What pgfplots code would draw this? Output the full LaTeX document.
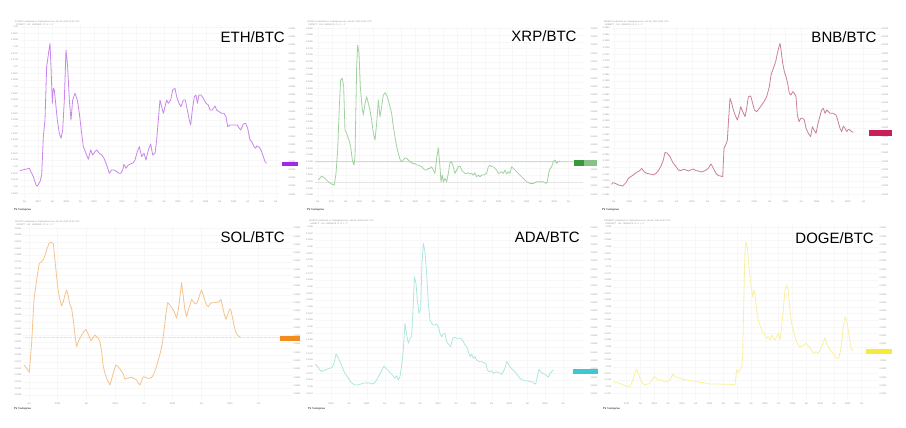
\documentclass[border=0pt]{standalone}
\usepackage{fontspec}
\setmainfont{Liberation Sans}
\usepackage{pgfplots}
\pgfplotsset{compat=1.18}
\definecolor{ethc}{RGB}{200,135,235}
\definecolor{xrpc}{RGB}{160,210,160}
\definecolor{bnbc}{RGB}{200,128,155}
\definecolor{solc}{RGB}{244,196,140}
\definecolor{adac}{RGB}{175,230,224}
\definecolor{dogec}{RGB}{250,240,160}
\definecolor{ethtag}{RGB}{160,40,230}
\definecolor{xrptag}{RGB}{60,150,60}
\definecolor{bnbtag}{RGB}{200,30,90}
\definecolor{soltag}{RGB}{242,140,30}
\definecolor{adatag}{RGB}{60,200,210}
\definecolor{dogetag}{RGB}{250,232,60}
\definecolor{lbl}{RGB}{150,150,150}
\pgfplotsset{
  tvpanel/.style={scale only axis, anchor=north west, y dir=reverse,
    axis line style={draw=none}, tick style={draw=none},
    grid=major, major grid style={black!3, line width=0.3pt},
    /pgf/number format/assume math mode=true,
    xticklabel style={font=\fontsize{2.4}{3}\selectfont, text=lbl, yshift=1pt},
    yticklabel style={font=\fontsize{2.2}{3}\selectfont, text=lbl, xshift=1.5pt},
    yticklabel={\pgfmathparse{(620-\tick)/6000}\pgfmathprintnumber[fixed,precision=4,assume math mode=true]{\pgfmathresult}},
    every axis plot/.append style={line width=0.8pt, line join=round, no markers}},
}
\newcommand{\ttl}[3]{\node[anchor=base east, font=\fontsize{15}{15}\selectfont, inner sep=0pt] at (#1pt,-#2pt) {#3};}
\newcommand{\hdr}[3]{\node[anchor=west, font=\fontsize{2.2}{2.8}\selectfont, text=lbl, inner sep=0pt, align=left] at (#1pt,-#2pt) {#3 published on TradingView.com, Jan 06, 2025 15:51 UTC\\ \ \ #3 · 1W · BINANCE \ O \ H \ L \ C};}
\newcommand{\tv}[2]{\node[anchor=west, font=\fontsize{2.4}{3}\selectfont\bfseries, inner sep=0pt] at (#1pt,-#2pt) {TV\ \mdseries TradingView};}
\newcommand{\rlabels}[3]{\foreach \k in {0,...,#3} {\node[font=\fontsize{2.2}{3}\selectfont, text=lbl, inner sep=0pt] at (#1pt,-#2pt-\k*8.3pt) {0.0000};}}
\newcommand{\tag}[5]{\fill[#5] (#1pt,-#2pt) rectangle (#3pt,-#4pt);}
\begin{document}
\begin{tikzpicture}
\fill[white] (0,0) rectangle (906pt,-428pt);
\useasboundingbox (0,0) rectangle (906pt,-428pt);

% ---------------- ETH/BTC ----------------
\begin{axis}[tvpanel, at={(20pt,-25pt)}, width=260pt, height=173.3pt,
  xmin=60, xmax=840, ymin=75, ymax=595,
  xtick={73,115,157,199,241,282,324,366,408,450,492,534,575,617,659,701,743,785,827},
  xticklabels={Jul,2017,Jul,2018,Jul,2019,Jul,2020,Jul,2021,Jul,2022,Jul,2023,Jul,2024,Jul,2025,Jul},
  ytick={80,100,...,580}]
\addplot[ethc] coordinates {(45,518)(60,512)(88,505)(100,530)(108,555)(112,558)(120,545)(125,525)(130,410)(135,360)(140,200)(147,150)(150,130)(153,200)(157,310)(160,265)(163,270)(167,310)(172,360)(178,400)(183,415)(188,390)(193,300)(198,150)(203,200)(208,300)(213,360)(218,300)(225,280)(232,300)(238,340)(245,400)(250,440)(258,460)(265,478)(272,450)(278,465)(285,455)(290,450)(298,460)(305,465)(312,475)(320,495)(328,520)(335,510)(343,510)(350,515)(357,520)(362,520)(368,510)(372,493)(378,505)(385,495)(392,492)(400,488)(405,480)(412,455)(418,440)(425,470)(432,460)(438,480)(445,450)(452,432)(458,465)(465,460)(470,420)(475,360)(480,300)(485,320)(490,340)(495,320)(500,300)(505,310)(512,300)(518,270)(525,265)(530,290)(537,310)(543,320)(550,300)(556,300)(562,330)(568,360)(572,375)(577,330)(583,290)(588,285)(592,310)(597,285)(603,285)(610,295)(618,310)(625,315)(630,330)(637,330)(645,318)(650,330)(657,335)(665,340)(672,340)(678,350)(683,380)(690,375)(698,375)(705,375)(712,375)(718,385)(722,390)(730,372)(737,370)(743,385)(750,420)(755,425)(762,440)(767,445)(770,438)(778,442)(783,450)(790,470)(795,485)(800,490)};
\end{axis}
\ttl{285}{42.5}{ETH/BTC}
\hdr{15}{23.5}{ETHBTC}
\tv{14}{209.5}
\rlabels{292}{28.5}{20}
\tag{282}{161.5}{298}{166}{ethtag}

% ---------------- XRP/BTC ----------------
\begin{axis}[tvpanel, at={(315pt,-26.7pt)}, width=268.3pt, height=171.7pt,
  xmin=45, xmax=850, ymin=80, ymax=595,
  xtick={53,95,137,178,220,262,304,346,387,429,471,513,554,596,638,680,721,763,805},
  xticklabels={Jul,2017,Jul,2018,Jul,2019,Jul,2020,Jul,2021,Jul,2022,Jul,2023,Jul,2024,Jul,2025,Jul},
  ytick={85,105,...,585}]
\addplot[xrpc!60, line width=0.35pt] coordinates {(45,483)(850,483)};
\addplot[black!10, line width=0.35pt] coordinates {(45,547)(850,547)};
\addplot[xrpc] coordinates {(55,540)(65,528)(75,535)(85,545)(95,552)(103,555)(108,520)(113,450)(118,320)(122,240)(127,235)(131,260)(135,390)(140,400)(147,420)(152,440)(157,480)(162,495)(165,470)(170,200)(173,135)(177,160)(181,260)(186,320)(190,345)(195,310)(200,290)(205,310)(210,330)(215,360)(220,400)(225,420)(230,370)(235,300)(240,350)(245,320)(250,285)(255,278)(260,285)(265,300)(270,320)(275,340)(280,380)(285,410)(290,440)(295,460)(300,478)(305,485)(310,480)(315,473)(320,475)(325,480)(330,485)(335,488)(340,492)(345,490)(350,495)(355,495)(360,498)(365,500)(370,505)(375,510)(380,510)(385,505)(390,505)(395,500)(400,510)(405,520)(410,475)(415,443)(420,500)(423,545)(427,525)(430,545)(435,535)(440,545)(445,520)(450,488)(455,486)(460,500)(465,520)(470,510)(475,500)(480,498)(485,510)(490,515)(495,520)(500,520)(505,518)(510,522)(515,520)(520,525)(525,518)(530,530)(535,525)(540,530)(545,525)(550,525)(555,522)(560,520)(565,500)(570,496)(575,500)(580,500)(585,505)(590,510)(595,520)(600,518)(605,515)(610,520)(615,510)(620,522)(625,515)(630,520)(635,500)(640,505)(645,510)(650,515)(655,520)(660,525)(665,530)(670,535)(675,540)(680,545)(690,550)(700,550)(710,545)(720,545)(730,545)(738,550)(742,545)(748,510)(755,500)(760,485)(765,480)(770,490)(775,485)(780,483)};
\end{axis}
\ttl{576.7}{41.5}{XRP/BTC}
\hdr{307}{23.5}{XRPBTC}
\tv{307}{209.5}
\rlabels{594}{28.5}{20}
\tag{574}{160}{587}{166}{xrptag}
\tag{584}{160}{597}{166}{xrptag!60}

% ---------------- BNB/BTC ----------------
\begin{axis}[tvpanel, at={(611.7pt,-26pt)}, width=268.3pt, height=172.3pt,
  xmin=35, xmax=840, ymin=78, ymax=595,
  xtick={41,88,135,182,229,275,322,369,416,463,509,556,603,650,697,743,790},
  xticklabels={Jul,2018,Jul,2019,Jul,2020,Jul,2021,Jul,2022,Jul,2023,Jul,2024,Jul,2025,Jul},
  ytick={83,103,...,583}]
\addplot[bnbc] coordinates {(30,560)(38,548)(45,550)(55,555)(68,558)(78,548)(85,535)(92,530)(100,525)(108,518)(118,513)(125,505)(132,515)(140,520)(150,522)(160,525)(168,520)(175,512)(183,498)(190,480)(195,457)(202,460)(210,470)(218,487)(228,500)(235,510)(242,512)(250,508)(258,510)(265,513)(272,510)(280,507)(288,512)(295,513)(305,516)(315,512)(325,505)(333,492)(340,505)(348,520)(355,527)(362,528)(368,530)(372,445)(377,435)(382,420)(385,370)(390,295)(395,310)(400,330)(405,345)(412,360)(418,340)(422,320)(428,335)(435,350)(440,325)(445,290)(452,288)(458,310)(463,330)(470,335)(478,325)(485,315)(492,305)(500,290)(508,260)(513,225)(520,205)(527,185)(532,160)(537,140)(540,130)(543,150)(548,190)(553,215)(558,230)(563,250)(568,280)(573,285)(578,275)(583,280)(588,290)(592,345)(597,365)(602,355)(608,355)(613,360)(618,385)(625,400)(632,410)(637,380)(642,390)(648,400)(653,375)(658,355)(665,330)(670,325)(675,340)(680,330)(685,335)(690,340)(700,340)(708,345)(713,360)(720,385)(725,395)(730,378)(735,385)(740,395)(745,388)(750,390)(755,395)(760,397)};
\end{axis}
\ttl{876.7}{42.5}{BNB/BTC}
\hdr{604}{23.5}{BNBBTC}
\tv{602}{209.5}
\rlabels{885}{28.5}{20}
\tag{869}{130}{892}{136}{bnbtag}

% ---------------- SOL/BTC ----------------
\begin{axis}[tvpanel, at={(23.3pt,-226pt)}, width=268.3pt, height=174pt,
  xmin=70, xmax=875, ymin=48, ymax=570,
  xtick={87,173,259,346,432,518,604,690,776},
  xticklabels={Jul,2022,Jul,2023,Jul,2024,Jul,2025,Jul},
  ytick={55,75,...,555}]
\addplot[solc!50, line width=0.3pt, densely dotted] coordinates {(70,380)(875,380)};
\addplot[solc] coordinates {(72,465)(80,475)(88,487)(95,400)(102,270)(110,210)(118,160)(125,155)(132,145)(140,120)(147,100)(153,97)(160,100)(165,150)(170,200)(175,245)(180,270)(185,288)(190,275)(195,255)(200,240)(205,258)(210,285)(215,295)(220,330)(225,375)(230,410)(235,395)(240,385)(245,375)(252,365)(258,358)(263,368)(268,380)(273,393)(278,385)(285,375)(290,380)(295,385)(300,395)(305,425)(310,470)(315,490)(322,510)(330,525)(337,500)(343,478)(348,465)(355,470)(362,480)(370,492)(375,508)(380,505)(388,503)(395,502)(402,505)(410,510)(415,520)(420,525)(425,512)(430,500)(437,502)(443,505)(450,505)(457,500)(462,490)(468,475)(475,450)(482,425)(488,395)(493,355)(498,310)(503,278)(508,283)(513,290)(518,298)(523,305)(530,325)(535,300)(540,260)(545,218)(550,260)(555,300)(560,320)(565,300)(570,285)(575,268)(580,275)(585,282)(590,280)(595,270)(600,252)(605,240)(610,255)(615,272)(620,285)(625,290)(630,282)(635,278)(643,278)(650,277)(657,275)(663,268)(668,290)(673,313)(678,328)(683,315)(688,300)(692,297)(697,320)(702,345)(707,365)(712,375)(718,380)(722,382)};
\end{axis}
\ttl{285}{242}{SOL/BTC}
\hdr{15}{223}{SOLBTC}
\tv{14}{409}
\rlabels{297}{228}{20}
\tag{280}{336}{300}{341}{soltag}

% ---------------- ADA/BTC ----------------
\begin{axis}[tvpanel, at={(315pt,-225pt)}, width=268.3pt, height=175pt,
  xmin=45, xmax=850, ymin=45, ymax=570,
  xtick={93,147,200,254,307,360,414,468,521,575,628,682,735,789},
  xticklabels={2019,Jul,2020,Jul,2021,Jul,2022,Jul,2023,Jul,2024,Jul,2025,Jul},
  ytick={50,70,...,550}]
\addplot[adac] coordinates {(45,462)(52,468)(58,478)(65,485)(72,482)(80,478)(88,475)(95,473)(102,460)(108,432)(113,440)(120,455)(128,475)(135,490)(142,500)(150,512)(157,520)(165,525)(172,525)(180,523)(188,520)(195,518)(202,520)(208,518)(215,522)(222,520)(230,510)(238,495)(245,482)(252,468)(258,475)(265,482)(272,490)(280,498)(285,505)(290,497)(295,510)(300,500)(305,465)(310,420)(315,340)(320,375)(325,400)(330,385)(335,380)(340,280)(343,200)(348,220)(352,270)(357,310)(362,295)(366,160)(370,100)(375,125)(380,190)(385,280)(390,330)(395,340)(400,345)(405,345)(410,342)(415,350)(420,370)(425,380)(430,372)(435,370)(440,395)(445,402)(452,410)(458,385)(463,382)(470,385)(478,385)(485,387)(490,395)(495,405)(500,410)(505,425)(510,440)(515,432)(520,445)(525,440)(530,450)(538,455)(545,455)(552,458)(558,462)(562,480)(568,485)(575,482)(580,490)(585,488)(590,485)(595,488)(600,490)(605,493)(610,485)(615,475)(620,455)(625,462)(630,470)(637,478)(645,485)(652,495)(660,505)(668,510)(675,512)(683,512)(690,515)(697,515)(702,520)(707,522)(712,500)(717,478)(722,485)(728,490)(733,492)(740,497)(745,502)(750,490)(755,485)(760,480)};
\end{axis}
\ttl{580}{242}{ADA/BTC}
\hdr{309}{222}{ADABTC}
\tv{308}{409}
\rlabels{594}{228}{20}
\tag{573}{369}{598}{374}{adatag}

% ---------------- DOGE/BTC ----------------
\begin{axis}[tvpanel, at={(613.3pt,-225pt)}, width=265pt, height=175pt,
  xmin=40, xmax=835, ymin=45, ymax=570,
  xtick={80,121,163,204,246,287,329,370,412,453,495,536,578,619,661,702,743,785},
  xticklabels={2017,Jul,2018,Jul,2019,Jul,2020,Jul,2021,Jul,2022,Jul,2023,Jul,2024,Jul,2025,Jul},
  ytick={50,70,...,550}]
\addplot[dogec] coordinates {(40,515)(50,518)(60,520)(70,525)(80,528)(88,530)(95,520)(100,505)(105,487)(110,478)(115,490)(120,505)(128,520)(135,525)(142,522)(150,520)(158,505)(163,500)(170,505)(178,512)(185,510)(192,515)(200,515)(207,512)(213,505)(218,492)(225,500)(233,503)(240,505)(250,508)(260,510)(270,512)(280,513)(290,515)(300,517)(310,518)(320,520)(330,522)(340,522)(350,522)(360,522)(370,523)(380,523)(390,523)(400,525)(405,523)(410,480)(415,487)(420,480)(425,470)(428,440)(432,250)(435,120)(438,95)(442,110)(445,150)(450,200)(455,240)(458,260)(462,240)(465,250)(470,300)(475,330)(480,345)(485,360)(490,370)(495,375)(500,385)(505,380)(510,390)(515,375)(520,385)(525,390)(530,380)(535,370)(540,390)(545,350)(550,300)(555,240)(560,225)(565,240)(570,300)(575,340)(580,360)(585,380)(590,395)(595,405)(600,410)(605,408)(612,405)(618,400)(622,405)(628,410)(635,420)(642,430)(648,425)(655,430)(660,420)(665,410)(670,395)(675,383)(680,400)(685,410)(690,420)(695,425)(700,430)(705,440)(710,445)(715,445)(720,430)(725,400)(730,350)(735,320)(740,330)(745,360)(750,395)(755,420)(760,422)};
\end{axis}
\ttl{874}{243.5}{DOGE/BTC}
\hdr{604}{222}{DOGEBTC}
\tv{603}{409}
\rlabels{883}{228}{20}
\tag{866}{349}{892}{354}{dogetag}
\end{tikzpicture}
\end{document}
